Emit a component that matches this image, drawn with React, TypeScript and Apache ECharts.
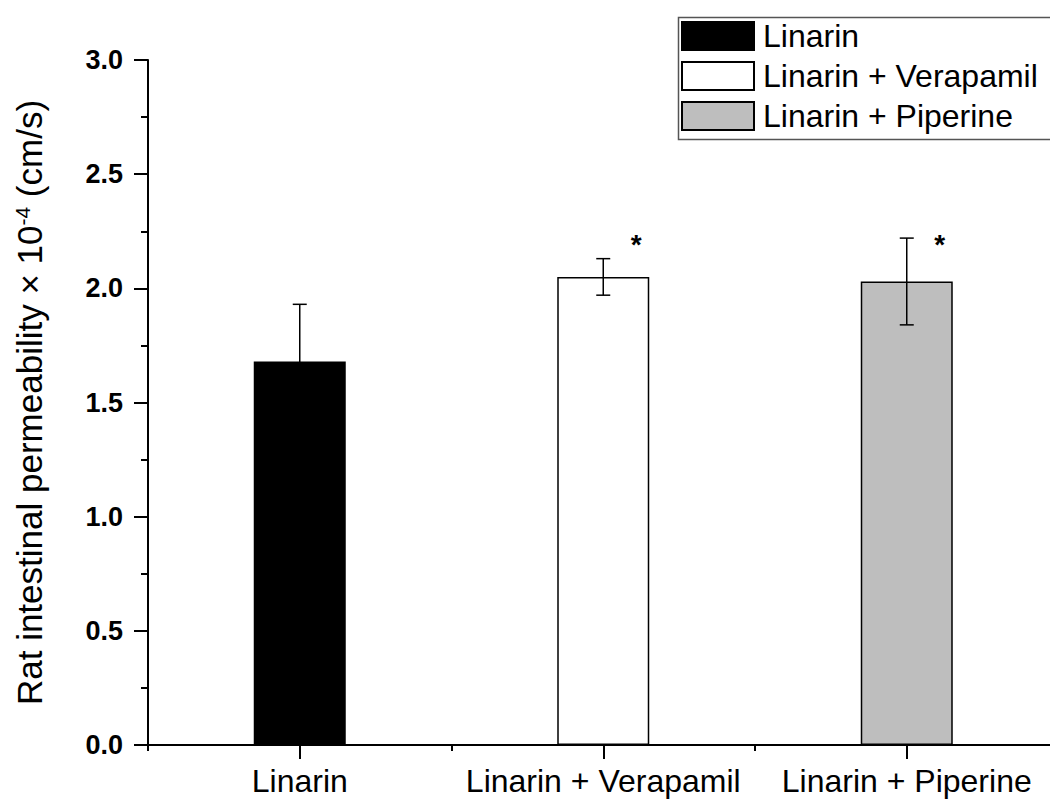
import React, { useEffect, useRef } from "react";
import * as echarts from "echarts";

const categories = ["Linarin", "Linarin + Verapamil", "Linarin + Piperine"];
const seriesNames = ["Linarin", "Linarin + Verapamil", "Linarin + Piperine"];
const means = [1.68, 2.05, 2.03];
const errors = [0.25, 0.08, 0.19];
const significance = ["", "*", "*"];
const starLevel = 2.2;
const barColors = ["#000000", "#ffffff", "#bebebe"];
const yMin = 0;
const yMax = 3;
const yInterval = 0.5;

const FONT = "'Liberation Sans', Arial, Helvetica, sans-serif";

export default function App() {
  const ref = useRef<HTMLDivElement>(null);
  useEffect(() => {
    if (!ref.current) return;
    const chart = echarts.init(ref.current, undefined, { renderer: "svg" });
    const barSeries = seriesNames.map((name, i) => ({
      name,
      type: "bar",
      data: means.map((m, j) => (j === i ? m : "-")),
      barWidth: 92,
      barGap: "-100%",
      itemStyle: { color: barColors[i], borderColor: "#000", borderWidth: 1.5 },
      z: 2,
    }));
    const option: any = {
      animation: false,
      textStyle: { fontFamily: FONT },
      grid: { left: 148, right: 41.5, top: 60, bottom: 55, containLabel: false },
      graphic: [
        {
          type: "group",
          left: 676,
          top: 15,
          children: [
            {
              type: "polyline",
              shape: { points: [[420, 0], [0, 0], [0, 122], [420, 122]] },
              style: { fill: "none", stroke: "#555", lineWidth: 1.5 },
            },
          ],
          z: 0,
        },
      ],
      legend: {
        data: seriesNames,
        orient: "vertical",
        left: 676,
        top: 15,
        icon: "rect",
        itemWidth: 72,
        itemHeight: 28,
        itemGap: 8,
        padding: [5, 5, 5, 5],
        borderWidth: 0,
        selectedMode: false,
        textStyle: { fontSize: 32, color: "#000", fontFamily: FONT, padding: [0, 0, 0, 4] },
      },
      xAxis: [
        {
          type: "category",
          data: categories,
          axisLine: { show: true, lineStyle: { color: "#000", width: 2 } },
          axisTick: { show: true, alignWithLabel: true, length: 14, lineStyle: { color: "#000", width: 2 } },
          axisLabel: { fontSize: 32, color: "#000", margin: 20, interval: 0, fontFamily: FONT },
          splitLine: { show: false },
        },
        {
          type: "category",
          data: categories,
          position: "bottom",
          axisLine: { show: false },
          axisTick: { show: true, alignWithLabel: false, length: 6, lineStyle: { color: "#000", width: 2 } },
          axisLabel: { show: false },
          splitLine: { show: false },
        },
      ],
      yAxis: {
        type: "value",
        min: yMin,
        max: yMax,
        interval: yInterval,
        name: "Rat intestinal permeability × 10{sup|-4} (cm/s)",
        nameLocation: "middle",
        nameRotate: 90,
        nameGap: 101,
        nameTextStyle: {
          fontSize: 35,
          color: "#000",
          fontFamily: FONT,
          rich: {
            sup: { fontSize: 21, color: "#000", fontFamily: FONT, verticalAlign: "top", padding: [0, 0, 14, 0] },
          },
        },
        axisLine: { show: true, lineStyle: { color: "#000", width: 2 } },
        axisTick: { show: true, length: 14, lineStyle: { color: "#000", width: 2 } },
        minorTick: { show: true, splitNumber: 2, length: 7, lineStyle: { color: "#000", width: 2 } },
        splitLine: { show: false },
        minorSplitLine: { show: false },
        axisLabel: {
          fontSize: 27,
          fontWeight: "bold",
          color: "#000",
          margin: 25,
          fontFamily: FONT,
          formatter: (v: number) => v.toFixed(1),
        },
      },
      series: [
        ...barSeries,
        {
          type: "custom",
          name: "errors",
          data: means.map((m, i) => [i, m - errors[i], m + errors[i]]),
          z: 10,
          renderItem: (params: any, api: any) => {
            const x = api.value(0);
            const low = api.coord([x, api.value(1)]);
            const high = api.coord([x, api.value(2)]);
            const hw = 7;
            const style = { stroke: "#000", lineWidth: 1.5 };
            return {
              type: "group",
              children: [
                { type: "line", shape: { x1: high[0], y1: high[1], x2: low[0], y2: low[1] }, style },
                { type: "line", shape: { x1: high[0] - hw, y1: high[1], x2: high[0] + hw, y2: high[1] }, style },
                { type: "line", shape: { x1: low[0] - hw, y1: low[1], x2: low[0] + hw, y2: low[1] }, style },
              ],
            };
          },
        },
        {
          type: "custom",
          name: "significance",
          data: significance.map((s, i) => [i, starLevel]),
          z: 11,
          renderItem: (params: any, api: any) => {
            const s = significance[params.dataIndex];
            if (!s) return null;
            const p = api.coord([api.value(0), api.value(1)]);
            return {
              type: "text",
              x: p[0] + 33,
              y: p[1] + 2,
              style: {
                text: s,
                fontSize: 28,
                fontWeight: "bold",
                fill: "#000",
                fontFamily: FONT,
                align: "center",
                verticalAlign: "middle",
              },
            };
          },
        },
      ],
    };
    chart.setOption(option);
    return () => chart.dispose();
  }, []);
  return (
    <div style={{ position: "absolute", left: 0, top: 0, width: 1050, height: 800, overflow: "hidden", background: "#fff" }}>
      <div ref={ref} style={{ width: 1100, height: 800 }} />
    </div>
  );
}
